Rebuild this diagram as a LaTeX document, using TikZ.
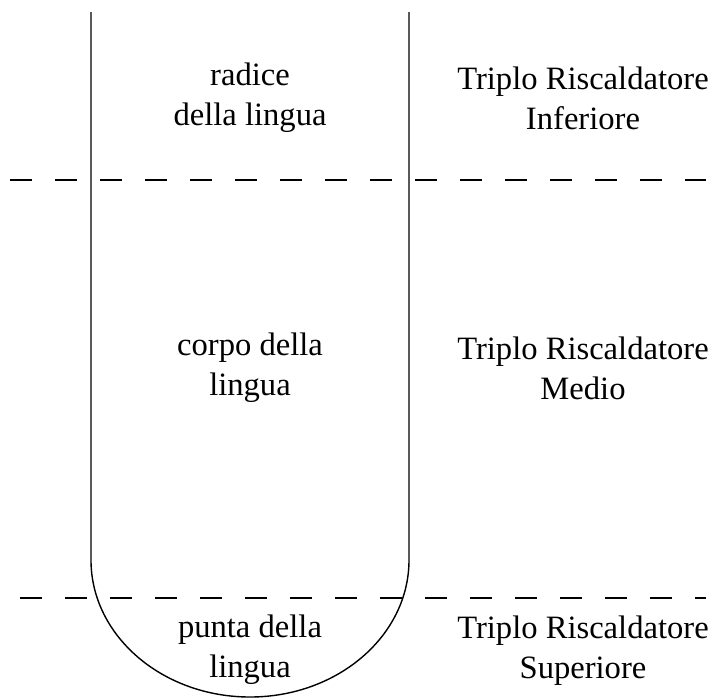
\documentclass[tikz,border=0pt]{standalone}
\usepackage{fontspec}
\setmainfont{Liberation Serif}
\usepackage{tikz}

\tikzset{
  zonetext/.style={align=center, font=\fontsize{16.3}{20}\selectfont},
  zoneline/.style={dash pattern=on 11pt off 11.5pt, line width=0.7pt},
}

\begin{document}
\begin{tikzpicture}[x=0.5pt, y=-0.5pt]
            \useasboundingbox (0,0) rectangle (714,698);

            % tongue
            \draw [line width=0.7pt] (91,12) -- (91,560)
                arc [start angle=180, end angle=0, x radius=159, y radius=137]
                -- (409,12);

            % zones
            \draw [zoneline] (10,180) -- (706,180);
            \draw [zoneline] (20,598) -- (706,598);

            \node [zonetext] (radice) at (250,98) {radice\\della lingua};
            \node [zonetext] (corpo) at (250,368) {corpo della\\lingua};
            \node [zonetext] (punta) at (250,650) {punta della\\lingua};

            \node [zonetext] (inferiore) at (583,98) {Triplo Riscaldatore\\Inferiore};
            \node [zonetext] (medio) at (583,368) {Triplo Riscaldatore\\Medio};
            \node [zonetext] (superiore) at (583,651) {Triplo Riscaldatore\\Superiore};
        \end{tikzpicture}
\end{document}
